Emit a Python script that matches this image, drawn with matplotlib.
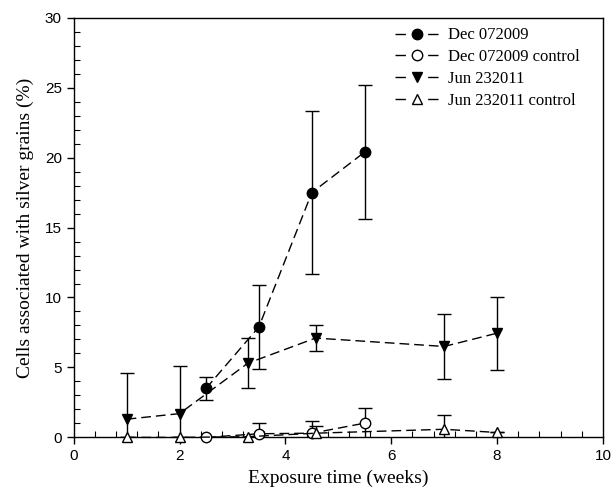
import matplotlib.pyplot as plt
from matplotlib.lines import Line2D
from matplotlib.ticker import MultipleLocator

# Data
dec_x = [2.5, 3.5, 4.5, 5.5]
dec_y = [3.5, 7.9, 17.5, 20.4]
dec_err = [0.8, 3.0, 5.8, 4.8]

dec_ctrl_x = [2.5, 3.5, 4.5, 5.5]
dec_ctrl_y = [0.0, 0.26, 0.3, 1.02]
dec_ctrl_err = [0.0, 0.77, 0.87, 1.1]

jun_x = [1, 2, 3.29, 4.57, 7, 8]
jun_y = [1.3, 1.7, 5.3, 7.1, 6.5, 7.45]
jun_err = [3.3, 3.4, 1.8, 0.95, 2.3, 2.6]

jun_ctrl_x = [1, 2, 3.29, 4.57, 7, 8]
jun_ctrl_y = [0.0, 0.0, 0.05, 0.3, 0.58, 0.35]
jun_ctrl_err = [0.0, 0.0, 0.0, 0.5, 1.05, 0.0]

labels = ['Dec 072009', 'Dec 072009 control', 'Jun 232011', 'Jun 232011 control']

fig = plt.figure(figsize=(6.14, 4.92), dpi=100)
ax = fig.add_axes([0.12, 0.111, 0.862, 0.853])

dash = (0, (7, 3.6))
series = [
    (dec_x, dec_y, dec_err, 'o', 'black'),
    (dec_ctrl_x, dec_ctrl_y, dec_ctrl_err, 'o', 'white'),
    (jun_x, jun_y, jun_err, 'v', 'black'),
    (jun_ctrl_x, jun_ctrl_y, jun_ctrl_err, '^', 'white'),
]

handles = []
for (x, y, err, mk, fc), lab in zip(series, labels):
    # error bars (clipped at the axes)
    ax.errorbar(x, y, yerr=err, fmt='none', ecolor='black', elinewidth=1.0,
                capsize=4.7, capthick=1.0, zorder=2)
    # dashed connecting line + markers (not clipped, so points on 0 stay whole)
    ax.plot(x, y, color='black', ls=dash, lw=1.0, marker=mk, markersize=7.5,
            mfc=fc, mec='black', mew=1.0, clip_on=False, zorder=3)
    handles.append(Line2D([], [], color='black', ls=(0, (7.5, 16)), lw=1.0,
                          marker=mk, markersize=7.5, mfc=fc, mec='black'))

ax.set_xlim(0, 10)
ax.set_ylim(0, 30)
ax.xaxis.set_major_locator(MultipleLocator(2))
ax.xaxis.set_minor_locator(MultipleLocator(0.4))
ax.yaxis.set_major_locator(MultipleLocator(5))
ax.yaxis.set_minor_locator(MultipleLocator(1))
ax.tick_params(which='major', direction='out', length=5, width=1,
               labelsize=11, labelfontfamily='Liberation Sans')
ax.tick_params(which='minor', direction='in', length=4, width=0.8)
for s in ax.spines.values():
    s.set_linewidth(1.0)
    s.set_zorder(2.5)

ax.set_xlabel('Exposure time (weeks)', family='Liberation Serif', fontsize=14, labelpad=5)
ax.set_ylabel('Cells associated with silver grains (%)', family='Liberation Serif',
              fontsize=14, labelpad=8)

ax.legend(handles, labels, loc='upper left', bbox_to_anchor=(0.608, 0.977),
          frameon=False, prop={'family': 'Liberation Serif', 'size': 12},
          handlelength=2.6, handletextpad=0.55, labelspacing=0.35,
          borderaxespad=0, borderpad=0)

fig.savefig('out.png', dpi=100, facecolor='white')
